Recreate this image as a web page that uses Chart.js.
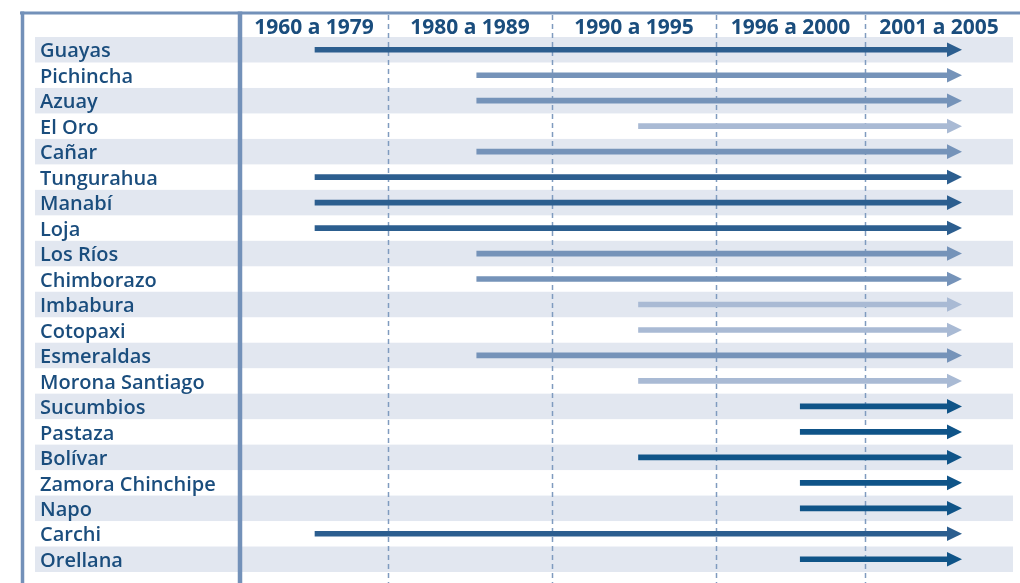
<!DOCTYPE html>
<html><head><meta charset="utf-8">
<script src="https://cdn.jsdelivr.net/npm/chart.js@4/dist/chart.umd.min.js"></script>
<style>html,body{margin:0;padding:0;background:#fff;overflow:hidden}</style>
</head><body>
<canvas id="c" width="1020" height="583"></canvas>
<script>
// ---- data ----
const provincias = ['Guayas','Pichincha','Azuay','El Oro','Cañar','Tungurahua','Manabí','Loja','Los Ríos','Chimborazo','Imbabura','Cotopaxi','Esmeraldas','Morona Santiago','Sucumbios','Pastaza','Bolívar','Zamora Chinchipe','Napo','Carchi','Orellana'];
const periodos = ['1960 a 1979','1980 a 1989','1990 a 1995','1996 a 2000','2001 a 2005'];
// index of the period in which each arrow starts / ends
const inicio = [0,1,1,2,1,0,0,0,1,1,2,2,1,2,3,3,2,3,3,0,3];
const fin    = [4,4,4,4,4,4,4,4,4,4,4,4,4,4,4,4,4,4,4,4,4];
// tone class of each arrow
const tono   = [0,1,1,2,1,0,0,0,1,1,2,2,1,2,3,3,3,3,3,0,3];

// ---- styles ----
const paleta = ['#2c5e8f','#7593b9','#a9bad4','#0f5488'];
const textColor = '#1a4d7d';
const frameColor = '#7391b9';
const bandColor = '#e2e7f0';
const dashColor = '#7f9bbf';
const X_MIN = -0.4637, X_MAX = 4.3153;
const cortes = [X_MIN, 0.4513, 1.4652, 2.4791, 3.4003, X_MAX];
const centros = cortes.slice(0,-1).map((c,i)=>(c+cortes[i+1])/2);
const HEAD_L = 15, HEAD_H = 7.3;

const tabla = {
  id:'tabla',
  beforeDraw(chart){
    const {ctx, chartArea:a, scales:{x,y}} = chart;
    const n = provincias.length;
    const rowH = (y.bottom - y.top)/n;
    ctx.save();
    ctx.fillStyle = bandColor;
    for(let i=0;i<n;i+=2){
      const cy = y.getPixelForValue(i);
      ctx.fillRect(35, cy-rowH/2, a.right-35, rowH);
    }
    // dashed column separators
    ctx.strokeStyle = dashColor; ctx.lineWidth = 1.5; ctx.setLineDash([5,4]);
    for(let k=1;k<cortes.length-1;k++){
      const px = Math.round(x.getPixelForValue(cortes[k]))+0.5;
      ctx.beginPath(); ctx.moveTo(px,15); ctx.lineTo(px,583); ctx.stroke();
    }
    ctx.setLineDash([]);
    // frame
    ctx.strokeStyle = frameColor;
    ctx.lineWidth = 3;
    ctx.beginPath(); ctx.moveTo(20,13); ctx.lineTo(1020,13); ctx.stroke();
    ctx.lineWidth = 3.5;
    ctx.beginPath(); ctx.moveTo(22.5,11.5); ctx.lineTo(22.5,583); ctx.stroke();
    ctx.lineWidth = 4.5;
    ctx.beginPath(); ctx.moveTo(240,11.5); ctx.lineTo(240,583); ctx.stroke();
    ctx.restore();
  },
  beforeDatasetsDraw(chart){
    const x = chart.scales.x;
    // shorten bars so the arrow head caps them
    chart.getDatasetMeta(0).data.forEach((el,i)=>{ el.x = x.getPixelForValue(fin[i]) - HEAD_L + 2; });
  },
  afterDatasetsDraw(chart){
    const {ctx, scales:{x}} = chart;
    const meta = chart.getDatasetMeta(0);
    ctx.save();
    meta.data.forEach((el,i)=>{
      const tip = x.getPixelForValue(fin[i]);
      ctx.fillStyle = paleta[tono[i]];
      ctx.beginPath();
      ctx.moveTo(tip, el.y);
      ctx.lineTo(tip-HEAD_L, el.y-HEAD_H);
      ctx.lineTo(tip-HEAD_L, el.y+HEAD_H);
      ctx.closePath(); ctx.fill();
    });
    ctx.restore();
  }
};

new Chart(document.getElementById('c'), {
  type:'bar',
  data:{
    labels: provincias,
    datasets:[{
      data: inicio.map((s,i)=>[s, fin[i]]),
      backgroundColor: tono.map(t=>paleta[t]),
      barThickness: 5,
      borderWidth: 0,
      borderSkipped: false
    }]
  },
  options:{
    indexAxis:'y',
    responsive:false,
    animation:false,
    events:[],
    layout:{padding:{left:40, right:7, top:14, bottom:7}},
    plugins:{legend:{display:false}, tooltip:{enabled:false}},
    scales:{
      x:{
        type:'linear', position:'top', min:X_MIN, max:X_MAX,
        grid:{display:false, drawTicks:false}, border:{display:false},
        afterBuildTicks(s){ s.ticks = centros.map(v=>({value:v})); },
        afterFit(s){ s.height = 23; },
        ticks:{
          autoSkip:false, maxRotation:0, padding:-2,
          callback:(v,i)=>periodos[i],
          color:textColor,
          font:{family:'"Open Sans"', size:21, weight:'bold', lineHeight:1}
        }
      },
      y:{
        grid:{display:false, drawTicks:false}, border:{display:false},
        afterFit(s){ s.width = 200; },
        ticks:{
          autoSkip:false, crossAlign:'far', padding:0, labelOffset:2,
          color:textColor,
          font:{family:'"Open Sans"', size:20, weight:'600', lineHeight:1.1}
        }
      }
    }
  },
  plugins:[tabla]
});
</script>
</body></html>
